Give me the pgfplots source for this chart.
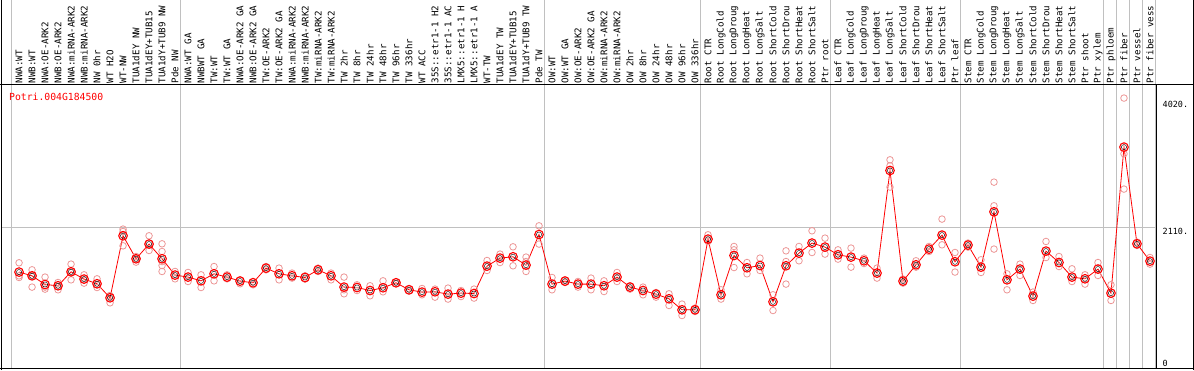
\documentclass[border=0pt]{standalone}
\usepackage{pgfplots}
\usepackage{pgfplotstable}
\pgfplotsset{compat=1.18}
\usepackage{fontspec}
\newfontfamily\monof{DejaVu Sans Mono}
\definecolor{gridg}{RGB}{192,192,192}
\definecolor{pinkr}{RGB}{236,150,150}

\pgfplotstableread{
k v
0 1443
1 1387
2 1257
3 1238
4 1447
5 1338
6 1268
7 1058
8 1986
9 1642
10 1862
11 1642
12 1398
13 1368
14 1312
15 1417
16 1368
17 1308
18 1283
19 1502
20 1417
21 1387
22 1362
23 1477
24 1387
25 1218
26 1212
27 1167
28 1208
29 1283
30 1178
31 1143
32 1148
33 1113
34 1128
35 1122
36 1532
37 1652
38 1672
39 1547
40 2005
41 1263
42 1308
43 1263
44 1263
45 1238
46 1368
47 1218
48 1167
49 1113
50 1043
51 878
52 878
53 1936
54 1103
55 1691
56 1507
57 1541
58 998
59 1537
60 1727
61 1877
62 1817
63 1702
64 1667
65 1612
66 1428
67 2963
68 1308
69 1552
70 1787
71 1996
72 1597
73 1847
74 1517
75 2345
76 1327
77 1488
78 1083
79 1757
80 1586
81 1368
82 1342
83 1488
84 1128
85 3313
86 1866
87 1607
}\means

\pgfplotstableread{
k v
0 1582
0 1387
0 1362
1 1477
1 1218
1 1387
2 1368
2 1188
2 1218
3 1287
3 1178
3 1227
4 1562
4 1327
4 1447
5 1402
5 1278
5 1327
6 1342
6 1212
6 1253
7 1092
7 983
7 1088
8 2086
8 2050
8 1836
9 1592
9 1676
9 1642
10 1986
10 1766
10 1877
11 1866
11 1751
11 1541
11 1452
11 1600
12 1452
12 1342
13 1437
13 1302
14 1402
14 1212
15 1526
15 1312
16 1402
16 1342
17 1327
17 1268
18 1302
18 1253
19 1526
19 1477
20 1502
20 1327
21 1428
21 1353
22 1387
22 1338
23 1502
23 1452
24 1428
24 1327
25 1368
25 1178
25 1118
26 1253
26 1167
27 1238
27 1088
28 1312
28 1148
29 1297
29 1268
30 1197
30 1158
31 1197
31 1103
32 1188
32 1068
33 1203
33 1039
34 1167
34 1077
35 1188
35 1054
36 1616
36 1467
37 1712
37 1586
38 1821
38 1537
39 1667
39 1452
39 1601
40 2135
40 1862
41 1362
41 1178
42 1327
42 1287
43 1302
43 1218
44 1353
44 1178
45 1312
45 1152
46 1437
46 1302
47 1238
47 1188
48 1218
48 1103
49 1137
49 1068
50 1118
50 943
51 964
51 793
52 904
52 853
53 2001
53 1901
54 1178
54 1039
55 1826
55 1776
55 1511
56 1586
56 1417
57 1652
57 1467
58 1103
58 868
59 1761
59 1601
59 1263
60 1826
60 1612
61 2061
61 1736
62 1951
62 1712
63 1776
63 1637
64 1802
64 1517
65 1652
65 1571
66 1502
66 1353
67 3123
67 3033
67 2715
68 1338
68 1278
69 1612
69 1517
70 1826
70 1751
71 2236
71 1851
72 1736
72 1443
73 1877
73 1817
74 1627
74 1437
75 2789
75 2435
75 1787
76 1417
76 1178
77 1562
77 1392
78 1143
78 1018
79 1901
79 1661
80 1676
80 1526
81 1492
81 1302
82 1402
82 1263
83 1586
83 1392
84 1253
84 1018
85 4047
85 3213
85 2685
86 1841
86 1892
87 1661
87 1562
}\reps

\begin{document}
\begin{tikzpicture}[x=1bp,y=1bp]
\begin{scope}
\clip (0,0) rectangle (1194,370);
\begin{axis}[
 at={(1.5bp,1.5bp)}, anchor=south west,
 scale only axis, width=1155bp, height=284bp,
 xmin=-1.35, xmax=87.5, ymin=0, ymax=4250,
 clip=false,
 axis line style={black, line width=0.8bp},
 xtick={0,...,87},
 xticklabels={NWA:WT,NWB:WT,NWA:OE-ARK2,NWB:OE-ARK2,NWA:miRNA-ARK2,NWB:miRNA-ARK2,NW 0hr,WT H2O,WT-NW,TUA1dEY NW,TUA1dEY+TUB15,TUA1dY+TUB9 NW,Pde NW,NWA:WT GA,NWBWT GA,TW:WT,TW:WT GA,NWA:OE-ARK2 GA,NWB:OE-ARK2 GA,TW:OE-ARK2,TW:OE-ARK2 GA,NWA:miRNA-ARK2,NWB:miRNA-ARK2,TW:miRNA-ARK2,TW:miRNA-ARK2,TW 2hr,TW 8hr,TW 24hr,TW 48hr,TW 96hr,TW 336hr,WT ACC,35S::etr1-1 H2,35S::etr1-1 AC,LMX5::etr1-1 H,LMX5::etr1-1 A,WT-TW,TUA1dEY TW,TUA1dEY+TUB15,TUA1dY+TUB9 TW,Pde TW,OW:WT,OW:WT GA,OW:OE-ARK2,OW:OE-ARK2 GA,OW:miRNA-ARK2,OW:miRNA-ARK2,OW 2hr,OW 8hr,OW 24hr,OW 48hr,OW 96hr,OW 336hr,Root CTR,Root LongCold,Root LongDroug,Root LongHeat,Root LongSalt,Root ShortCold,Root ShortDrou,Root ShortHeat,Root ShortSalt,Ptr root,Leaf CTR,Leaf LongCold,Leaf LongDroug,Leaf LongHeat,Leaf LongSalt,Leaf ShortCold,Leaf ShortDrou,Leaf ShortHeat,Leaf ShortSalt,Ptr leaf,Stem CTR,Stem LongCold,Stem LongDroug,Stem LongHeat,Stem LongSalt,Stem ShortCold,Stem ShortDrou,Stem ShortHeat,Stem ShortSalt,Ptr shoot,Ptr xylem,Ptr phloem,Ptr fiber,Ptr vessel,Ptr fiber vess},
 xticklabel pos=right,
 xticklabel style={rotate=90, anchor=west, font=\monof\fontsize{9.2}{10}\selectfont, inner sep=1.2bp},
 major tick length=0pt,
 tick style={draw=none},
 ytick=\empty,
]
\pgfplotsinvokeforeach{-0.6,12.4,40.4,52.4,62.4,72.4,83.4,84.4,85.4,86.4,87.4}{
  \draw[gridg, line width=0.8bp] (axis cs:#1,0) -- (axis cs:#1,4250) -- ++(0bp,90bp);
}
\draw[gridg, line width=0.8bp] (axis cs:-1.35,2110) -- (axis cs:87.5,2110);
\addplot[only marks, mark=o, mark size=3.3bp, mark options={draw=pinkr, line width=0.8bp}] table[x=k,y=v] {\reps};
\addplot[red, line width=0.8bp, mark=o, mark size=4.3bp, mark options={red, line width=1.1bp}] table[x=k,y=v] {\means};
\addplot[only marks, mark=o, mark size=2.6bp, mark options={black, line width=0.4bp}] table[x=k,y=v] {\means};
\node[anchor=north west, inner sep=1bp, font=\monof\fontsize{8.5}{9}\selectfont] at ([xshift=5bp]axis cs:87.5,4020) {4020.};
\node[anchor=north west, inner sep=1bp, font=\monof\fontsize{8.5}{9}\selectfont] at ([xshift=5bp]axis cs:87.5,2110) {2110.};
\node[anchor=south west, inner sep=1bp, font=\monof\fontsize{8.5}{9}\selectfont] at ([xshift=5bp,yshift=1bp]axis cs:87.5,0) {0};
\end{axis}
\end{scope}
\draw[black, line width=0.8bp] (0,285.5) -- (1194,285.5);
\draw[black, line width=0.8bp] (1.5,0) -- (1.5,370);
\draw[black, line width=0.8bp] (1193,0) -- (1193,370);
\draw[black, line width=0.8bp] (0,1.5) -- (1194,1.5);
\node[anchor=west, inner sep=0pt, text=red, font=\monof\fontsize{9.8}{10}\selectfont] at (9,273) {Potri.004G184500};
\pgfresetboundingbox
\useasboundingbox (0,0) rectangle (1194,370);
\end{tikzpicture}
\end{document}
